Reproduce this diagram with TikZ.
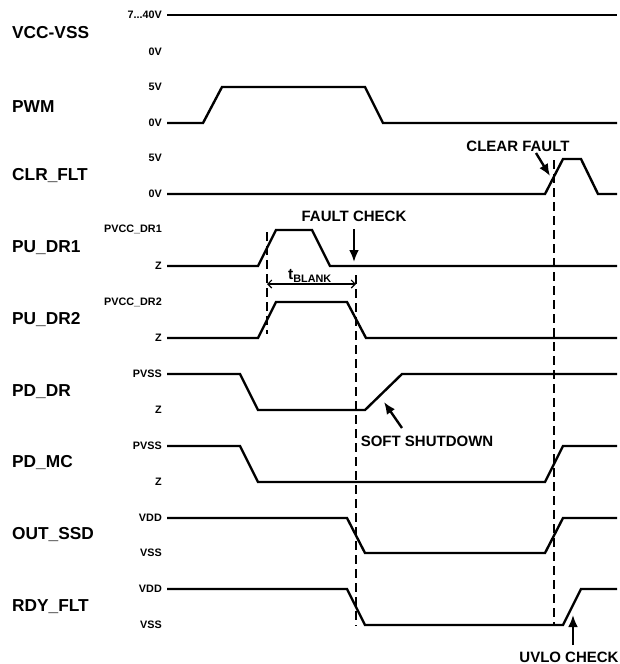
\documentclass[tikz,border=0pt]{standalone}
\usepackage{fontspec}
\setmainfont{Liberation Sans}
\usetikzlibrary{arrows.meta}
\tikzset{
  sig/.style={line width=2.4pt, line join=miter},
  sname/.style={anchor=west, inner sep=0pt, font=\fontsize{17.3}{20}\selectfont\bfseries},
  lvl/.style={anchor=east, inner sep=0pt, font=\fontsize{10.8}{12}\selectfont\bfseries},
  note/.style={inner sep=0pt, font=\fontsize{15}{17}\selectfont\bfseries},
  guide/.style={line width=1.3pt, dash pattern=on 9pt off 5pt},
  callout/.style={line width=2.4pt, -{Latex[length=12pt,width=10pt]}},
}
\begin{document}
\begin{tikzpicture}[x=1pt,y=-1pt]
\useasboundingbox (0,0) rectangle (619,664);
% signal names
\node[sname] (n1) at (12,33) {VCC-VSS};
\node[sname] (n2) at (12,107) {PWM};
\node[sname] (n3) at (12,176) {CLR\_FLT};
\node[sname] (n4) at (12,248) {PU\_DR1};
\node[sname] (n5) at (12,320) {PU\_DR2};
\node[sname] (n6) at (12,392) {PD\_DR};
\node[sname] (n7) at (12,463) {PD\_MC};
\node[sname] (n8) at (12,535) {OUT\_SSD};
\node[sname] (n9) at (12,607) {RDY\_FLT};
% level labels
\node[lvl] (l1h) at (162,15) {7...40V};
\node[lvl] (l1l) at (162,52) {0V};
\node[lvl] (l2h) at (162,87) {5V};
\node[lvl] (l2l) at (162,123) {0V};
\node[lvl] (l3h) at (162,158) {5V};
\node[lvl] (l3l) at (162,194) {0V};
\node[lvl] (l4h) at (162,229) {PVCC\_DR1};
\node[lvl] (l4l) at (162,266) {Z};
\node[lvl] (l5h) at (162,302) {PVCC\_DR2};
\node[lvl] (l5l) at (162,338) {Z};
\node[lvl] (l6h) at (162,374) {PVSS};
\node[lvl] (l6l) at (162,410) {Z};
\node[lvl] (l7h) at (162,446) {PVSS};
\node[lvl] (l7l) at (162,482) {Z};
\node[lvl] (l8h) at (162,518) {VDD};
\node[lvl] (l8l) at (162,553) {VSS};
\node[lvl] (l9h) at (162,589) {VDD};
\node[lvl] (l9l) at (162,625) {VSS};
% waveforms
\draw[sig] (167,15) -- (617,15);
\draw[sig] (167,123) -- (203,123) -- (222,87) -- (365,87) -- (383,123) -- (617,123);
\draw[sig] (167,194) -- (545,194) -- (563,159) -- (581,159) -- (598,194) -- (617,194);
\draw[sig] (167,266) -- (258,266) -- (276,230) -- (312,230) -- (330,266) -- (617,266);
\draw[sig] (167,338) -- (258,338) -- (276,302) -- (347,302) -- (366,338) -- (617,338);
\draw[sig] (167,374) -- (240,374) -- (258,410) -- (365,410) -- (402,374) -- (617,374);
\draw[sig] (167,446) -- (240,446) -- (258,482) -- (545,482) -- (563,446) -- (617,446);
\draw[sig] (167,518) -- (347,518) -- (365,553) -- (545,553) -- (563,518) -- (617,518);
\draw[sig] (167,589) -- (347,589) -- (365,625) -- (563,625) -- (581,589) -- (617,589);
% guide lines
\coordinate (g1t) at (267,232);
\coordinate (g1b) at (267,334);
\coordinate (g2t) at (356,275);
\coordinate (g2b) at (356,626);
\coordinate (g3t) at (554,160);
\coordinate (g3b) at (554,626);
\draw[guide] (g1t) -- (g1b);
\draw[guide] (g2t) -- (g2b);
\draw[guide] (g3t) -- (g3b);
% t_blank
\coordinate (tbl) at (267,284);
\coordinate (tbr) at (356,284);
\draw[line width=1.1pt, {Straight Barb[length=4pt,width=8pt]}-{Straight Barb[length=4pt,width=8pt]}] (tbl) -- (tbr);
\node[inner sep=0pt, font=\fontsize{15.5}{17}\selectfont\bfseries] (tb) at (310,276) {t\textsubscript{BLANK}};
% annotations
\node[note] (fc) at (354,216) {FAULT CHECK};
\coordinate (fcs) at (354,229);
\coordinate (fca) at (354,262);
\draw[callout] (fcs) -- (fca);
\node[note] (cf) at (518,146) {CLEAR FAULT};
\coordinate (cfs) at (536,153);
\coordinate (cfa) at (550,176);
\draw[callout] (cfs) -- (cfa);
\node[note] (ss) at (427,441) {SOFT SHUTDOWN};
\coordinate (sss) at (402,428);
\coordinate (ssa) at (384,402);
\draw[callout] (sss) -- (ssa);
\node[note] (uv) at (569,657) {UVLO CHECK};
\coordinate (uvs) at (573,645);
\coordinate (uva) at (573,615);
\draw[callout] (uvs) -- (uva);
\end{tikzpicture}
\end{document}
